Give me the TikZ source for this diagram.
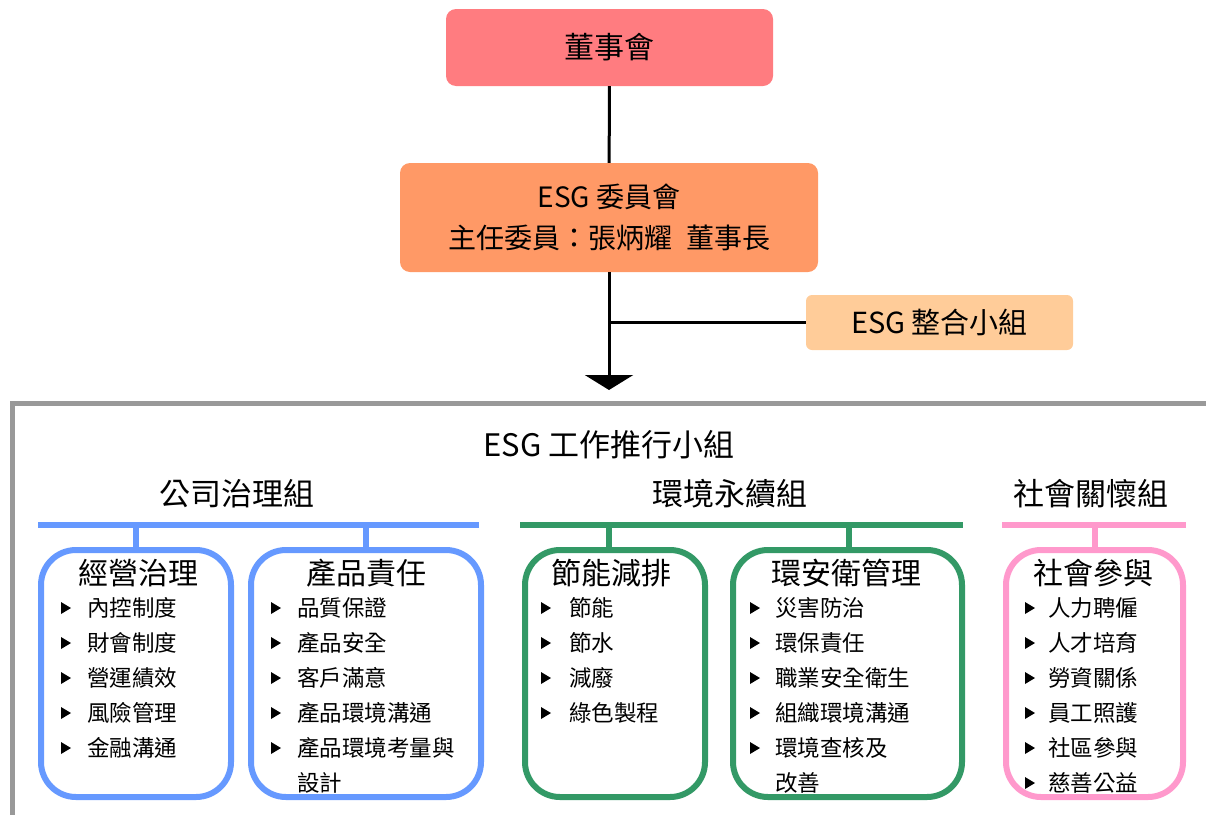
\documentclass[tikz,border=0pt]{standalone}
\usepackage{fontspec}
\setmainfont{Noto Sans CJK TC}
\usepackage{xcolor}
\usetikzlibrary{arrows.meta, positioning}
\definecolor{boardRed}{HTML}{FF7C80}
\definecolor{esgOrange}{HTML}{FF9966}
\definecolor{teamPeach}{HTML}{FFCC99}
\definecolor{govBlue}{HTML}{6699FF}
\definecolor{envGreen}{HTML}{339966}
\definecolor{socPink}{HTML}{FF99CC}
\definecolor{frameGray}{HTML}{999999}
\newcommand{\bulletmark}[2]{\fill (#1,#2-6) -- ++(0,12) -- ++(10,-6) -- cycle;}

\begin{document}
\begin{tikzpicture}[x=1pt, y=-1pt,
	topbox/.style={rounded corners=10pt, inner sep=0pt, align=center},
	heading/.style={inner sep=0pt, font=\fontsize{30}{34}\selectfont},
	unit/.style={draw=#1, line width=6pt, rounded corners=35pt, minimum height=247pt, inner sep=0pt},
	bar/.style={draw=#1, line width=6pt},
	itemtext/.style={anchor=west, inner sep=0pt, align=left, font=\fontsize{22.5}{35}\selectfont},
	link/.style={line width=3pt}]

	\useasboundingbox (0,0) rectangle (1206,814);

	% top of the chart
	\node[topbox, fill=boardRed, minimum width=327pt, minimum height=77pt, font=\fontsize{30}{34}\selectfont] (board) at (609.5,47.5) {董事會};
	\node[topbox, fill=esgOrange, minimum width=418pt, minimum height=109pt, font=\fontsize{28}{41}\selectfont] (committee) at (609,217.5) {ESG 委員會\\主任委員：張炳耀\hspace{0.5em}董事長};
	\node[topbox, rounded corners=6pt, fill=teamPeach, minimum width=267pt, minimum height=55pt, font=\fontsize{29}{30}\selectfont] (integ) at (939.5,322.5) {ESG 整合小組};
	\coordinate (arrowEnd) at (609,390);

	\draw[link] (board) -- (committee);
	\draw[link, -{Triangle[width=48pt,length=15pt]}] (committee) -- (arrowEnd);
	\draw[link] (integ.west) -- (integ.west -| committee.south);

	% working group frame
	\draw[frameGray, line width=5pt] (12,840) -- (12,403) -- (1240,403);
	\node[heading, font=\fontsize{31}{34}\selectfont] (workTitle) at (609,445) {ESG 工作推行小組};

	\node[heading, font=\fontsize{31}{34}\selectfont] (govTitle) at (237,494) {公司治理組};
	\node[heading, font=\fontsize{31}{34}\selectfont] (envTitle) at (730,494) {環境永續組};
	\node[heading, font=\fontsize{31}{34}\selectfont] (socTitle) at (1091,494) {社會關懷組};

	\coordinate (govL) at (38,525);
	\coordinate (govR) at (479,525);
	\coordinate (envL) at (520,525);
	\coordinate (envR) at (963,525);
	\coordinate (socL) at (1002,525);
	\coordinate (socR) at (1186,525);
	\draw[bar=govBlue] (govL) -- (govR);
	\draw[bar=envGreen] (envL) -- (envR);
	\draw[bar=socPink] (socL) -- (socR);

	\node[unit=govBlue, minimum width=190pt] (operate) at (136,673.5) {};
	\node[unit=govBlue, minimum width=230pt] (product) at (366,673.5) {};
	\node[unit=envGreen, minimum width=180pt] (energy) at (615,673.5) {};
	\node[unit=envGreen, minimum width=229pt] (safety) at (847.5,673.5) {};
	\node[unit=socPink, minimum width=177pt] (social) at (1094.5,673.5) {};

	\coordinate (envStemA) at (609,525);
	\coordinate (envStemB) at (849,525);
	\draw[bar=govBlue] (operate.north) -- (operate.north |- govL);
	\draw[bar=govBlue] (product.north) -- (product.north |- govL);
	\draw[bar=envGreen] (envStemA) -- (envStemA |- energy.north);
	\draw[bar=envGreen] (envStemB) -- (envStemB |- safety.north);
	\draw[bar=socPink] (social.north) -- (social.north |- socL);

	\node[heading] (operateT) at (138,573) {經營治理};
	\node[heading] (productT) at (366,573) {產品責任};
	\node[heading] (energyT) at (611,573) {節能減排};
	\node[heading] (safetyT) at (846,573) {環安衛管理};
	\node[heading] (socialT) at (1093,573) {社會參與};

	% item lists
	\foreach \txt [count=\i] in {內控制度, 財會制度, 營運績效, 風險管理, 金融溝通} {
		\node[itemtext] (operate\i) at (87,573+35*\i) {\txt};
		\bulletmark{61}{573+35*\i}
	}
	\foreach \txt [count=\i] in {品質保證, 產品安全, 客戶滿意, 產品環境溝通} {
		\node[itemtext] (product\i) at (297,573+35*\i) {\txt};
		\bulletmark{271}{573+35*\i}
	}
	\node[itemtext] (product5) at (297,765.5) {產品環境考量與\\設計};
	\bulletmark{271}{748}
	\foreach \txt [count=\i] in {節能, 節水, 減廢, 綠色製程} {
		\node[itemtext] (energy\i) at (569,573+35*\i) {\txt};
		\bulletmark{541}{573+35*\i}
	}
	\foreach \txt [count=\i] in {災害防治, 環保責任, 職業安全衛生, 組織環境溝通} {
		\node[itemtext] (safety\i) at (775,573+35*\i) {\txt};
		\bulletmark{750}{573+35*\i}
	}
	\node[itemtext] (safety5) at (775,765.5) {環境查核及\\改善};
	\bulletmark{750}{748}
	\foreach \txt [count=\i] in {人力聘僱, 人才培育, 勞資關係, 員工照護, 社區參與, 慈善公益} {
		\node[itemtext] (social\i) at (1048,573+35*\i) {\txt};
		\bulletmark{1025}{573+35*\i}
	}

\end{tikzpicture}
\end{document}
